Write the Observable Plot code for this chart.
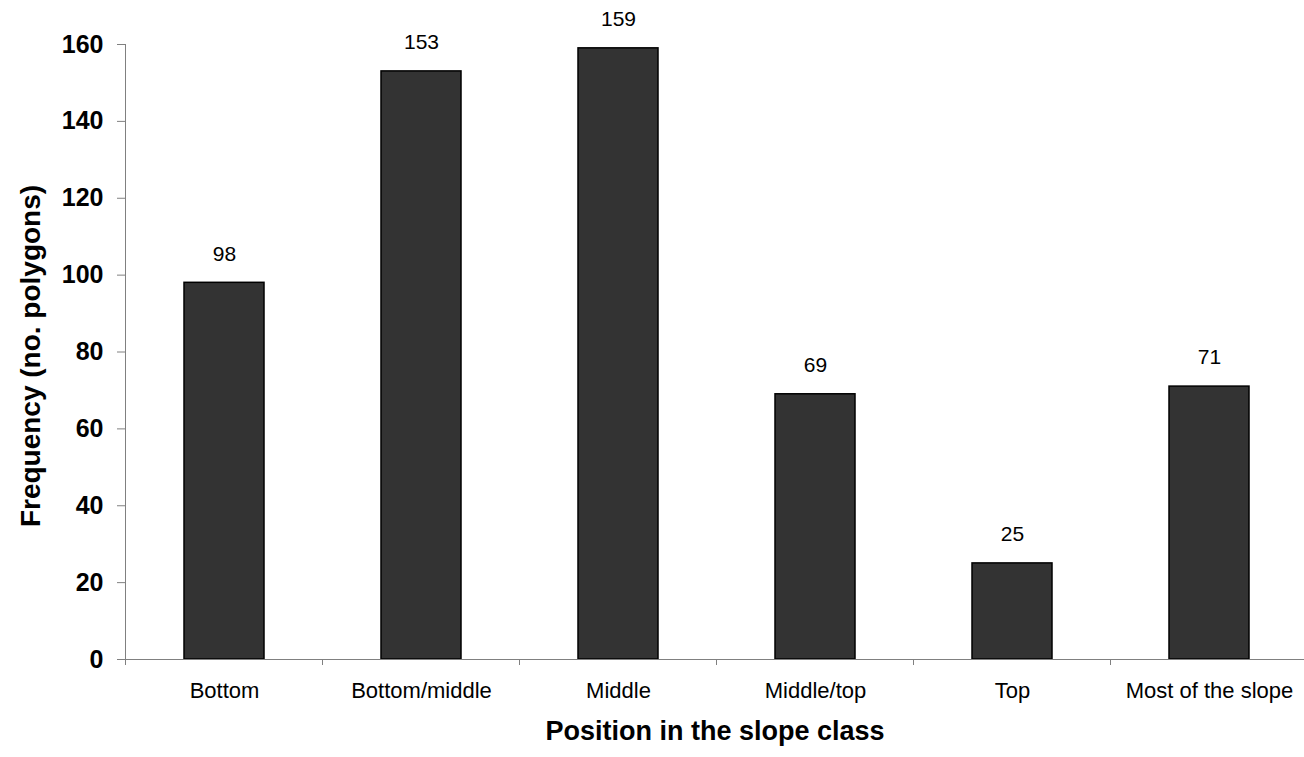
<!DOCTYPE html>
<html>
<head>
<meta charset="utf-8">
<script src="https://cdn.jsdelivr.net/npm/d3@7"></script>
<script src="https://cdn.jsdelivr.net/npm/@observablehq/plot@0.6"></script>
<style>
  html, body { margin: 0; padding: 0; background: #fff; }
  #chart { width: 1304px; height: 757px; }
  svg { font-family: "Liberation Sans", Arial, sans-serif; }
</style>
</head>
<body>
<div id="chart"></div>
<script>
// Slope-position classes and polygon counts
const categories = ["Bottom", "Bottom/middle", "Middle", "Middle/top", "Top", "Most of the slope"];
const counts = [98, 153, 159, 69, 25, 71];
const yTicks = [0, 20, 40, 60, 80, 100, 120, 140, 160];

const data = categories.map((c, i) => ({category: c, count: counts[i]}));

const axisGray = "#808080";

// Small downward ticks on the category axis, placed between the bands
function bandBoundaryTicks(index, scales, values, dimensions) {
  const x = scales.x;
  const y = scales.y;
  const step = x(categories[1]) - x(categories[0]);
  const y0 = y(0);
  const g = d3.create("svg:g").attr("stroke", axisGray).attr("stroke-width", 1);
  const starts = categories.map(c => x(c) - (step - x.bandwidth()) / 2);
  starts.push(starts[starts.length - 1] + step);
  for (const bx of starts) {
    g.append("line").attr("x1", bx).attr("x2", bx).attr("y1", y0).attr("y2", y0 + 6);
  }
  return g.node();
}

const chart = Plot.plot({
  width: 1304,
  height: 757,
  marginTop: 44,
  marginBottom: 98,
  marginLeft: 125,
  marginRight: 0,
  style: {fontFamily: "Liberation Sans, Arial, sans-serif", background: "#fff"},
  x: {
    type: "band",
    domain: categories,
    range: [125, 1307],
    paddingInner: 0.594,
    paddingOuter: 0.297,
    label: null
  },
  y: {
    domain: [0, 160],
    range: [659, 44],
    label: null
  },
  marks: [
    Plot.barY(data, {x: "category", y: "count", fill: "#333333", stroke: "#000", strokeWidth: 1.5}),
    Plot.text(data, {x: "category", y: "count", text: d => String(d.count), dy: -29, fontSize: 21, fill: "#000"}),
    Plot.ruleY([0], {stroke: axisGray, strokeWidth: 1}),
    Plot.frame({anchor: "left", stroke: axisGray, strokeWidth: 1}),
    Plot.axisY(yTicks, {tickSize: 8, tickPadding: 14, stroke: axisGray, fontSize: 25, fontWeight: "bold", fill: "#000", label: null}),
    Plot.axisX({tickSize: 0, tickPadding: 23, fontSize: 22, fill: "#000", label: null}),
    bandBoundaryTicks,
    // axis titles
    Plot.text(["Frequency (no. polygons)"], {frameAnchor: "left", dx: -94, dy: 4, rotate: -90, fontSize: 28, fontWeight: "bold", fill: "#000", textAnchor: "middle", lineAnchor: "middle"}),
    Plot.text(["Position in the slope class"], {frameAnchor: "bottom", dy: 72, fontSize: 27, fontWeight: "bold", fill: "#000", textAnchor: "middle", lineAnchor: "middle", letterSpacing: 0.7})
  ]
});

document.getElementById("chart").appendChild(chart);
</script>
</body>
</html>
